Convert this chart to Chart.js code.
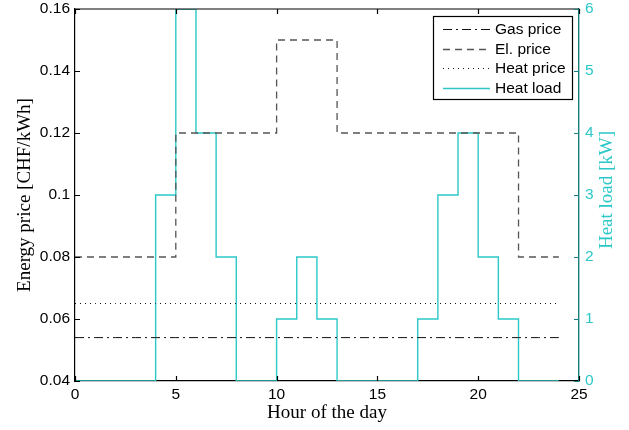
<!DOCTYPE html>
<html>
<head>
<meta charset="utf-8">
<script src="https://cdn.jsdelivr.net/npm/chart.js@4.4.0/dist/chart.umd.min.js"></script>
<style>
  html, body { margin: 0; padding: 0; background: #fff; }
  canvas { display: block; }
</style>
</head>
<body>
<canvas id="c" width="629" height="430"></canvas>
<script>
// ---- Data (per hour of the day, value held during [h, h+1)) ----
const hourStarts = [0,1,2,3,4,5,6,7,8,9,10,11,12,13,14,15,16,17,18,19,20,21,22,23];
const gasPrice   = [0.054,0.054,0.054,0.054,0.054,0.054,0.054,0.054,0.054,0.054,0.054,0.054,0.054,0.054,0.054,0.054,0.054,0.054,0.054,0.054,0.054,0.054,0.054,0.054];
const elPrice    = [0.08,0.08,0.08,0.08,0.08,0.12,0.12,0.12,0.12,0.12,0.15,0.15,0.15,0.12,0.12,0.12,0.12,0.12,0.12,0.12,0.12,0.12,0.08,0.08];
const heatPrice  = [0.065,0.065,0.065,0.065,0.065,0.065,0.065,0.065,0.065,0.065,0.065,0.065,0.065,0.065,0.065,0.065,0.065,0.065,0.065,0.065,0.065,0.065,0.065,0.065];
const heatLoad   = [0,0,0,0,3,6,4,2,0,0,1,2,1,0,0,0,0,1,3,4,2,1,0,0];
const dayEnd = 24;

const xTicks  = [0,5,10,15,20,25];
const yTicks  = [0.04,0.06,0.08,0.1,0.12,0.14,0.16];
const y1Ticks = [0,1,2,3,4,5,6];

const seriesNames = ['Gas price','El. price','Heat price','Heat load'];

function toSteps(vals) {
  const pts = hourStarts.map((h, i) => ({x: h, y: vals[i]}));
  pts.push({x: dayEnd, y: vals[vals.length - 1]});
  return pts;
}

const CYAN = '#2cc8c8';
const TEAL = '#178080';
const SANS = '"Liberation Sans", Arial, sans-serif';
const SERIF = '"Liberation Serif", "Times New Roman", serif';

function noPad(s) {
  s.paddingTop = 0; s.paddingBottom = 0; s.paddingLeft = 0; s.paddingRight = 0;
}

const insideTicks = {
  id: 'insideTicks',
  afterDraw(chart) {
    const ctx = chart.ctx;
    const {left, right, top, bottom} = chart.chartArea;
    const {x, y, y1} = chart.scales;
    ctx.save();
    ctx.lineWidth = 1.2;
    ctx.strokeStyle = '#000';
    // top border
    ctx.beginPath();
    ctx.moveTo(left, top); ctx.lineTo(right, top);
    ctx.stroke();
    const L = 5;
    ctx.beginPath();
    xTicks.forEach(v => {
      const px = Math.round(x.getPixelForValue(v)) + 0.5;
      ctx.moveTo(px, bottom); ctx.lineTo(px, bottom - L);
      ctx.moveTo(px, top); ctx.lineTo(px, top + L);
    });
    yTicks.forEach(v => {
      const py = Math.round(y.getPixelForValue(v)) + 0.5;
      ctx.moveTo(left, py); ctx.lineTo(left + L, py);
    });
    ctx.stroke();
    ctx.strokeStyle = TEAL;
    ctx.beginPath();
    y1Ticks.forEach(v => {
      const py = Math.round(y1.getPixelForValue(v)) + 0.5;
      ctx.moveTo(right, py); ctx.lineTo(right - L, py);
    });
    ctx.stroke();

    // right axis title, reading bottom-to-top
    ctx.fillStyle = CYAN;
    ctx.font = '19px ' + SERIF;
    ctx.textAlign = 'center';
    ctx.textBaseline = 'middle';
    ctx.translate(607, 190);
    ctx.rotate(-Math.PI / 2);
    ctx.fillText('Heat load [kW]', 0, 0);
    ctx.restore();

    // legend box
    ctx.save();
    const bx = 433, by = 16, bw = 139, bh = 83;
    ctx.fillStyle = '#fff';
    ctx.fillRect(bx, by, bw, bh);
    ctx.strokeStyle = '#000';
    ctx.lineWidth = 1.2;
    ctx.strokeRect(bx + 0.5, by + 0.5, bw, bh);
    const rows = [29, 49, 68, 88];
    ctx.font = '15.5px ' + SANS;
    ctx.textAlign = 'left';
    ctx.textBaseline = 'middle';
    chart.data.datasets.forEach((ds, i) => {
      const ry = rows[i] + 0.5;
      ctx.save();
      ctx.strokeStyle = ds.borderColor;
      ctx.lineWidth = ds.borderWidth;
      ctx.setLineDash(ds.borderDash || []);
      ctx.beginPath();
      ctx.moveTo(443, ry); ctx.lineTo(490, ry);
      ctx.stroke();
      ctx.restore();
      ctx.fillStyle = '#000';
      ctx.fillText(ds.label, 495, rows[i] + 1);
    });
    ctx.restore();
  }
};

new Chart(document.getElementById('c'), {
  type: 'line',
  data: {
    datasets: [
      { label: seriesNames[0], data: toSteps(gasPrice), yAxisID: 'y', stepped: true,
        borderColor: '#111', borderWidth: 1, borderDash: [9, 4, 2, 4], pointRadius: 0, fill: false },
      { label: seriesNames[1], data: toSteps(elPrice), yAxisID: 'y', stepped: true,
        borderColor: '#555', borderWidth: 1.3, borderDash: [7, 5], pointRadius: 0, fill: false },
      { label: seriesNames[2], data: toSteps(heatPrice), yAxisID: 'y', stepped: true,
        borderColor: '#111', borderWidth: 1, borderDash: [1, 4], pointRadius: 0, fill: false },
      { label: seriesNames[3], data: toSteps(heatLoad), yAxisID: 'y1', stepped: true,
        borderColor: CYAN, borderWidth: 1.4, pointRadius: 0, fill: false }
    ]
  },
  options: {
    responsive: false,
    animation: false,
    layout: { padding: { top: 9, left: 0, right: 0, bottom: 0 } },
    plugins: { legend: { display: false }, tooltip: { enabled: false } },
    scales: {
      x: {
        type: 'linear', min: 0, max: 25,
        afterBuildTicks: s => { s.ticks = xTicks.map(v => ({value: v})); },
        afterFit: s => { s.height = 49; noPad(s); },
        ticks: { color: '#000', font: { family: SANS, size: 15.5 }, padding: 4, maxRotation: 0 },
        grid: { display: false, drawTicks: false },
        border: { display: true, color: '#000', width: 1.2 },
        title: { display: true, text: 'Hour of the day', color: '#000',
                 font: { family: SERIF, size: 19 }, padding: { top: 0, bottom: 6 } }
      },
      y: {
        type: 'linear', position: 'left', min: 0.04, max: 0.16,
        afterBuildTicks: s => { s.ticks = yTicks.map(v => ({value: v})); },
        afterFit: s => { s.width = 75; noPad(s); },
        ticks: { color: '#000', font: { family: SANS, size: 15.5 }, padding: 5,
                 callback: v => String(Math.round(v * 100) / 100) },
        grid: { display: false, drawTicks: false },
        border: { display: true, color: '#000', width: 1.2 },
        title: { display: true, text: 'Energy price [CHF/kWh]', color: '#000',
                 font: { family: SERIF, size: 19 }, padding: { top: 14, bottom: 0 } }
      },
      y1: {
        type: 'linear', position: 'right', min: 0, max: 6,
        afterBuildTicks: s => { s.ticks = y1Ticks.map(v => ({value: v})); },
        afterFit: s => { s.width = 50; noPad(s); },
        ticks: { color: CYAN, font: { family: SANS, size: 15.5 }, padding: 6 },
        grid: { display: false, drawTicks: false },
        border: { display: true, color: TEAL, width: 1.4 }
      }
    }
  },
  plugins: [insideTicks]
});
</script>
</body>
</html>
